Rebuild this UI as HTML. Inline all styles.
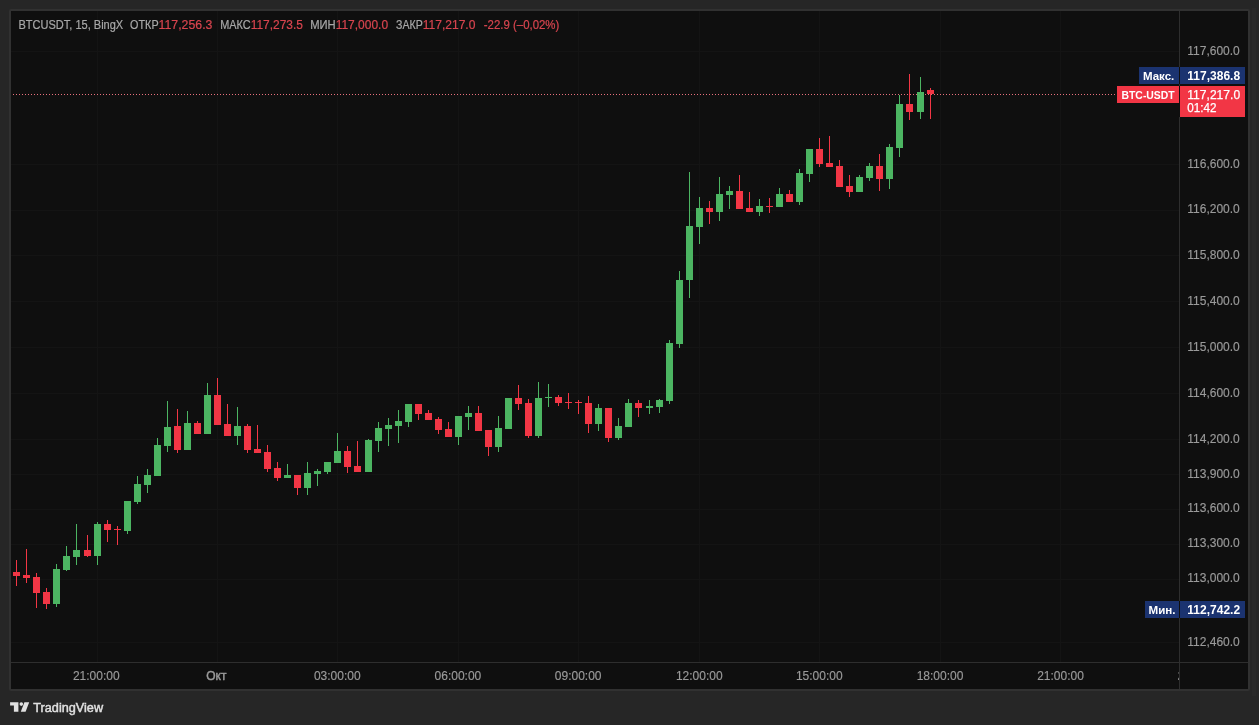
<!DOCTYPE html>
<html><head><meta charset="utf-8"><style>
html,body{margin:0;padding:0;width:1259px;height:725px;overflow:hidden;background:#262626;font-family:"Liberation Sans",sans-serif;}
</style></head><body>
<svg width="1259" height="725" viewBox="0 0 1259 725" style="position:absolute;left:0;top:0;will-change:transform"><rect x="0" y="0" width="1259" height="725" fill="#262626"/><rect x="1252" y="8" width="4" height="688" fill="#292929"/><rect x="9" y="9" width="1241" height="682" rx="2" fill="#313131"/><rect x="11" y="11" width="1237" height="678" fill="#0f0f0f"/><rect x="11" y="51" width="1168" height="1" fill="#141414"/><rect x="11" y="164" width="1168" height="1" fill="#141414"/><rect x="11" y="210" width="1168" height="1" fill="#141414"/><rect x="11" y="255" width="1168" height="1" fill="#141414"/><rect x="11" y="301" width="1168" height="1" fill="#141414"/><rect x="11" y="347" width="1168" height="1" fill="#141414"/><rect x="11" y="393" width="1168" height="1" fill="#141414"/><rect x="11" y="439" width="1168" height="1" fill="#141414"/><rect x="11" y="474" width="1168" height="1" fill="#141414"/><rect x="11" y="509" width="1168" height="1" fill="#141414"/><rect x="11" y="544" width="1168" height="1" fill="#141414"/><rect x="11" y="579" width="1168" height="1" fill="#141414"/><rect x="11" y="642" width="1168" height="1" fill="#141414"/><rect x="97" y="11" width="1" height="651" fill="#141414"/><rect x="217" y="11" width="1" height="651" fill="#141414"/><rect x="337" y="11" width="1" height="651" fill="#141414"/><rect x="458" y="11" width="1" height="651" fill="#141414"/><rect x="578" y="11" width="1" height="651" fill="#141414"/><rect x="699" y="11" width="1" height="651" fill="#141414"/><rect x="819" y="11" width="1" height="651" fill="#141414"/><rect x="940" y="11" width="1" height="651" fill="#141414"/><rect x="1060" y="11" width="1" height="651" fill="#141414"/><line x1="13" y1="94.5" x2="1179" y2="94.5" stroke="#e8707c" stroke-width="1" stroke-dasharray="1 2"/><rect x="16" y="560" width="1" height="26" fill="#f23645"/><rect x="13" y="572" width="7" height="4" fill="#f23645"/><rect x="26" y="549" width="1" height="34" fill="#f23645"/><rect x="23" y="575" width="7" height="3" fill="#f23645"/><rect x="36" y="573" width="1" height="35" fill="#f23645"/><rect x="33" y="577" width="7" height="16" fill="#f23645"/><rect x="46" y="588" width="1" height="21" fill="#f23645"/><rect x="43" y="592" width="7" height="12" fill="#f23645"/><rect x="56" y="564" width="1" height="43" fill="#4cb562"/><rect x="53" y="569" width="7" height="35" fill="#4cb562"/><rect x="66" y="546" width="1" height="25" fill="#4cb562"/><rect x="63" y="556" width="7" height="14" fill="#4cb562"/><rect x="76" y="524" width="1" height="41" fill="#4cb562"/><rect x="73" y="550" width="7" height="7" fill="#4cb562"/><rect x="87" y="535" width="1" height="22" fill="#f23645"/><rect x="84" y="550" width="7" height="6" fill="#f23645"/><rect x="97" y="522" width="1" height="43" fill="#4cb562"/><rect x="94" y="524" width="7" height="32" fill="#4cb562"/><rect x="107" y="520" width="1" height="22" fill="#f23645"/><rect x="104" y="524" width="7" height="6" fill="#f23645"/><rect x="117" y="526" width="1" height="19" fill="#f23645"/><rect x="114" y="529" width="7" height="1" fill="#f23645"/><rect x="127" y="501" width="1" height="33" fill="#4cb562"/><rect x="124" y="501" width="7" height="30" fill="#4cb562"/><rect x="137" y="476" width="1" height="28" fill="#4cb562"/><rect x="134" y="484" width="7" height="18" fill="#4cb562"/><rect x="147" y="469" width="1" height="24" fill="#4cb562"/><rect x="144" y="475" width="7" height="10" fill="#4cb562"/><rect x="157" y="438" width="1" height="38" fill="#4cb562"/><rect x="154" y="445" width="7" height="31" fill="#4cb562"/><rect x="167" y="401" width="1" height="51" fill="#4cb562"/><rect x="164" y="427" width="7" height="19" fill="#4cb562"/><rect x="177" y="409" width="1" height="44" fill="#f23645"/><rect x="174" y="426" width="7" height="24" fill="#f23645"/><rect x="187" y="411" width="1" height="39" fill="#4cb562"/><rect x="184" y="423" width="7" height="27" fill="#4cb562"/><rect x="197" y="421" width="1" height="13" fill="#f23645"/><rect x="194" y="423" width="7" height="11" fill="#f23645"/><rect x="207" y="383" width="1" height="51" fill="#4cb562"/><rect x="204" y="395" width="7" height="39" fill="#4cb562"/><rect x="217" y="378" width="1" height="47" fill="#f23645"/><rect x="214" y="395" width="7" height="30" fill="#f23645"/><rect x="227" y="404" width="1" height="32" fill="#f23645"/><rect x="224" y="424" width="7" height="12" fill="#f23645"/><rect x="237" y="407" width="1" height="38" fill="#4cb562"/><rect x="234" y="426" width="7" height="10" fill="#4cb562"/><rect x="247" y="424" width="1" height="29" fill="#f23645"/><rect x="244" y="426" width="7" height="24" fill="#f23645"/><rect x="257" y="425" width="1" height="28" fill="#f23645"/><rect x="254" y="449" width="7" height="4" fill="#f23645"/><rect x="267" y="445" width="1" height="27" fill="#f23645"/><rect x="264" y="452" width="7" height="17" fill="#f23645"/><rect x="277" y="462" width="1" height="19" fill="#f23645"/><rect x="274" y="468" width="7" height="10" fill="#f23645"/><rect x="287" y="464" width="1" height="14" fill="#4cb562"/><rect x="284" y="475" width="7" height="3" fill="#4cb562"/><rect x="297" y="475" width="1" height="20" fill="#f23645"/><rect x="294" y="475" width="7" height="13" fill="#f23645"/><rect x="307" y="462" width="1" height="33" fill="#4cb562"/><rect x="304" y="473" width="7" height="15" fill="#4cb562"/><rect x="317" y="469" width="1" height="17" fill="#4cb562"/><rect x="314" y="471" width="7" height="3" fill="#4cb562"/><rect x="327" y="462" width="1" height="12" fill="#4cb562"/><rect x="324" y="462" width="7" height="10" fill="#4cb562"/><rect x="337" y="433" width="1" height="30" fill="#4cb562"/><rect x="334" y="451" width="7" height="12" fill="#4cb562"/><rect x="347" y="446" width="1" height="27" fill="#f23645"/><rect x="344" y="451" width="7" height="16" fill="#f23645"/><rect x="357" y="441" width="1" height="31" fill="#f23645"/><rect x="354" y="466" width="7" height="6" fill="#f23645"/><rect x="368" y="439" width="1" height="33" fill="#4cb562"/><rect x="365" y="440" width="7" height="32" fill="#4cb562"/><rect x="378" y="422" width="1" height="30" fill="#4cb562"/><rect x="375" y="428" width="7" height="13" fill="#4cb562"/><rect x="388" y="418" width="1" height="28" fill="#4cb562"/><rect x="385" y="425" width="7" height="4" fill="#4cb562"/><rect x="398" y="410" width="1" height="33" fill="#4cb562"/><rect x="395" y="421" width="7" height="5" fill="#4cb562"/><rect x="408" y="404" width="1" height="23" fill="#4cb562"/><rect x="405" y="404" width="7" height="18" fill="#4cb562"/><rect x="418" y="404" width="1" height="16" fill="#f23645"/><rect x="415" y="404" width="7" height="10" fill="#f23645"/><rect x="428" y="410" width="1" height="10" fill="#f23645"/><rect x="425" y="413" width="7" height="7" fill="#f23645"/><rect x="438" y="417" width="1" height="17" fill="#f23645"/><rect x="435" y="419" width="7" height="11" fill="#f23645"/><rect x="448" y="422" width="1" height="15" fill="#f23645"/><rect x="445" y="429" width="7" height="8" fill="#f23645"/><rect x="458" y="416" width="1" height="29" fill="#4cb562"/><rect x="455" y="416" width="7" height="21" fill="#4cb562"/><rect x="468" y="406" width="1" height="24" fill="#4cb562"/><rect x="465" y="413" width="7" height="4" fill="#4cb562"/><rect x="478" y="406" width="1" height="25" fill="#f23645"/><rect x="475" y="413" width="7" height="18" fill="#f23645"/><rect x="488" y="430" width="1" height="26" fill="#f23645"/><rect x="485" y="430" width="7" height="17" fill="#f23645"/><rect x="498" y="416" width="1" height="36" fill="#4cb562"/><rect x="495" y="428" width="7" height="19" fill="#4cb562"/><rect x="508" y="398" width="1" height="31" fill="#4cb562"/><rect x="505" y="398" width="7" height="31" fill="#4cb562"/><rect x="518" y="385" width="1" height="25" fill="#f23645"/><rect x="515" y="398" width="7" height="6" fill="#f23645"/><rect x="528" y="399" width="1" height="39" fill="#f23645"/><rect x="525" y="403" width="7" height="33" fill="#f23645"/><rect x="538" y="382" width="1" height="56" fill="#4cb562"/><rect x="535" y="398" width="7" height="38" fill="#4cb562"/><rect x="548" y="384" width="1" height="23" fill="#4cb562"/><rect x="545" y="397" width="7" height="1" fill="#4cb562"/><rect x="558" y="395" width="1" height="11" fill="#f23645"/><rect x="555" y="397" width="7" height="6" fill="#f23645"/><rect x="568" y="393" width="1" height="16" fill="#f23645"/><rect x="565" y="402" width="7" height="1" fill="#f23645"/><rect x="578" y="400" width="1" height="14" fill="#f23645"/><rect x="575" y="402" width="7" height="1" fill="#f23645"/><rect x="588" y="396" width="1" height="37" fill="#f23645"/><rect x="585" y="403" width="7" height="21" fill="#f23645"/><rect x="598" y="404" width="1" height="27" fill="#4cb562"/><rect x="595" y="408" width="7" height="16" fill="#4cb562"/><rect x="608" y="408" width="1" height="34" fill="#f23645"/><rect x="605" y="408" width="7" height="30" fill="#f23645"/><rect x="618" y="418" width="1" height="22" fill="#4cb562"/><rect x="615" y="426" width="7" height="12" fill="#4cb562"/><rect x="628" y="399" width="1" height="28" fill="#4cb562"/><rect x="625" y="403" width="7" height="24" fill="#4cb562"/><rect x="638" y="400" width="1" height="17" fill="#f23645"/><rect x="635" y="403" width="7" height="5" fill="#f23645"/><rect x="649" y="400" width="1" height="14" fill="#4cb562"/><rect x="646" y="406" width="7" height="2" fill="#4cb562"/><rect x="659" y="399" width="1" height="14" fill="#4cb562"/><rect x="656" y="400" width="7" height="7" fill="#4cb562"/><rect x="669" y="340" width="1" height="64" fill="#4cb562"/><rect x="666" y="343" width="7" height="58" fill="#4cb562"/><rect x="679" y="271" width="1" height="77" fill="#4cb562"/><rect x="676" y="280" width="7" height="64" fill="#4cb562"/><rect x="689" y="172" width="1" height="126" fill="#4cb562"/><rect x="686" y="226" width="7" height="54" fill="#4cb562"/><rect x="699" y="197" width="1" height="47" fill="#4cb562"/><rect x="696" y="208" width="7" height="19" fill="#4cb562"/><rect x="709" y="201" width="1" height="23" fill="#f23645"/><rect x="706" y="208" width="7" height="4" fill="#f23645"/><rect x="719" y="177" width="1" height="44" fill="#4cb562"/><rect x="716" y="194" width="7" height="18" fill="#4cb562"/><rect x="729" y="186" width="1" height="23" fill="#4cb562"/><rect x="726" y="191" width="7" height="4" fill="#4cb562"/><rect x="739" y="175" width="1" height="34" fill="#f23645"/><rect x="736" y="191" width="7" height="18" fill="#f23645"/><rect x="749" y="192" width="1" height="20" fill="#f23645"/><rect x="746" y="208" width="7" height="4" fill="#f23645"/><rect x="759" y="199" width="1" height="17" fill="#4cb562"/><rect x="756" y="206" width="7" height="6" fill="#4cb562"/><rect x="769" y="198" width="1" height="15" fill="#f23645"/><rect x="766" y="206" width="7" height="1" fill="#f23645"/><rect x="779" y="188" width="1" height="19" fill="#4cb562"/><rect x="776" y="194" width="7" height="13" fill="#4cb562"/><rect x="789" y="190" width="1" height="12" fill="#f23645"/><rect x="786" y="194" width="7" height="8" fill="#f23645"/><rect x="799" y="169" width="1" height="36" fill="#4cb562"/><rect x="796" y="173" width="7" height="29" fill="#4cb562"/><rect x="809" y="149" width="1" height="33" fill="#4cb562"/><rect x="806" y="149" width="7" height="25" fill="#4cb562"/><rect x="819" y="138" width="1" height="29" fill="#f23645"/><rect x="816" y="149" width="7" height="15" fill="#f23645"/><rect x="829" y="136" width="1" height="31" fill="#f23645"/><rect x="826" y="163" width="7" height="4" fill="#f23645"/><rect x="839" y="160" width="1" height="27" fill="#f23645"/><rect x="836" y="166" width="7" height="21" fill="#f23645"/><rect x="849" y="175" width="1" height="22" fill="#f23645"/><rect x="846" y="186" width="7" height="6" fill="#f23645"/><rect x="859" y="175" width="1" height="17" fill="#4cb562"/><rect x="856" y="177" width="7" height="15" fill="#4cb562"/><rect x="869" y="163" width="1" height="18" fill="#4cb562"/><rect x="866" y="166" width="7" height="12" fill="#4cb562"/><rect x="879" y="154" width="1" height="37" fill="#f23645"/><rect x="876" y="166" width="7" height="13" fill="#f23645"/><rect x="889" y="144" width="1" height="45" fill="#4cb562"/><rect x="886" y="147" width="7" height="32" fill="#4cb562"/><rect x="899" y="95" width="1" height="62" fill="#4cb562"/><rect x="896" y="104" width="7" height="44" fill="#4cb562"/><rect x="909" y="74" width="1" height="46" fill="#f23645"/><rect x="906" y="104" width="7" height="8" fill="#f23645"/><rect x="920" y="77" width="1" height="42" fill="#4cb562"/><rect x="917" y="92" width="7" height="20" fill="#4cb562"/><rect x="930" y="88" width="1" height="31" fill="#f23645"/><rect x="927" y="90" width="7" height="4" fill="#f23645"/><rect x="1179" y="11" width="1" height="678" fill="#2e2e2e"/><rect x="11" y="662" width="1237" height="1" fill="#2e2e2e"/><text x="1239.8" y="54.9" text-anchor="end" font-family="Liberation Sans" font-size="12" fill="#9a9a9a" stroke="#9a9a9a" stroke-width="0.15">117,600.0</text><text x="1239.8" y="167.8" text-anchor="end" font-family="Liberation Sans" font-size="12" fill="#9a9a9a" stroke="#9a9a9a" stroke-width="0.15">116,600.0</text><text x="1239.8" y="213.2" text-anchor="end" font-family="Liberation Sans" font-size="12" fill="#9a9a9a" stroke="#9a9a9a" stroke-width="0.15">116,200.0</text><text x="1239.8" y="258.8" text-anchor="end" font-family="Liberation Sans" font-size="12" fill="#9a9a9a" stroke="#9a9a9a" stroke-width="0.15">115,800.0</text><text x="1239.8" y="304.6" text-anchor="end" font-family="Liberation Sans" font-size="12" fill="#9a9a9a" stroke="#9a9a9a" stroke-width="0.15">115,400.0</text><text x="1239.8" y="350.5" text-anchor="end" font-family="Liberation Sans" font-size="12" fill="#9a9a9a" stroke="#9a9a9a" stroke-width="0.15">115,000.0</text><text x="1239.8" y="396.5" text-anchor="end" font-family="Liberation Sans" font-size="12" fill="#9a9a9a" stroke="#9a9a9a" stroke-width="0.15">114,600.0</text><text x="1239.8" y="442.7" text-anchor="end" font-family="Liberation Sans" font-size="12" fill="#9a9a9a" stroke="#9a9a9a" stroke-width="0.15">114,200.0</text><text x="1239.8" y="477.5" text-anchor="end" font-family="Liberation Sans" font-size="12" fill="#9a9a9a" stroke="#9a9a9a" stroke-width="0.15">113,900.0</text><text x="1239.8" y="512.4" text-anchor="end" font-family="Liberation Sans" font-size="12" fill="#9a9a9a" stroke="#9a9a9a" stroke-width="0.15">113,600.0</text><text x="1239.8" y="547.3" text-anchor="end" font-family="Liberation Sans" font-size="12" fill="#9a9a9a" stroke="#9a9a9a" stroke-width="0.15">113,300.0</text><text x="1239.8" y="582.4" text-anchor="end" font-family="Liberation Sans" font-size="12" fill="#9a9a9a" stroke="#9a9a9a" stroke-width="0.15">113,000.0</text><text x="1239.8" y="645.7" text-anchor="end" font-family="Liberation Sans" font-size="12" fill="#9a9a9a" stroke="#9a9a9a" stroke-width="0.15">112,460.0</text><text x="96.3" y="679.6" text-anchor="middle" font-family="Liberation Sans" font-size="12" fill="#9a9a9a" stroke="#9a9a9a" stroke-width="0.15">21:00:00</text><text x="216.4" y="679.6" text-anchor="middle" font-family="Liberation Sans" font-size="12" fill="#9a9a9a" stroke="#9a9a9a" stroke-width="0.45">Окт</text><text x="337.3" y="679.6" text-anchor="middle" font-family="Liberation Sans" font-size="12" fill="#9a9a9a" stroke="#9a9a9a" stroke-width="0.15">03:00:00</text><text x="457.9" y="679.6" text-anchor="middle" font-family="Liberation Sans" font-size="12" fill="#9a9a9a" stroke="#9a9a9a" stroke-width="0.15">06:00:00</text><text x="578.2" y="679.6" text-anchor="middle" font-family="Liberation Sans" font-size="12" fill="#9a9a9a" stroke="#9a9a9a" stroke-width="0.15">09:00:00</text><text x="699.3" y="679.6" text-anchor="middle" font-family="Liberation Sans" font-size="12" fill="#9a9a9a" stroke="#9a9a9a" stroke-width="0.15">12:00:00</text><text x="819.3" y="679.6" text-anchor="middle" font-family="Liberation Sans" font-size="12" fill="#9a9a9a" stroke="#9a9a9a" stroke-width="0.15">15:00:00</text><text x="940" y="679.6" text-anchor="middle" font-family="Liberation Sans" font-size="12" fill="#9a9a9a" stroke="#9a9a9a" stroke-width="0.15">18:00:00</text><text x="1060.5" y="679.6" text-anchor="middle" font-family="Liberation Sans" font-size="12" fill="#9a9a9a" stroke="#9a9a9a" stroke-width="0.15">21:00:00</text><clipPath id="cp"><rect x="1170" y="663" width="9" height="26"/></clipPath><text x="1181" y="679.5" text-anchor="middle" font-family="Liberation Sans" font-size="12" font-weight="bold" fill="#9a9a9a" clip-path="url(#cp)">2</text><rect x="1139" y="67" width="40" height="17" fill="#1b3370"/><rect x="1180" y="67" width="65" height="17" fill="#1b3370"/><rect x="1179" y="67" width="1" height="17" fill="#0f0f0f"/><text x="1143" y="80" textLength="31.3" lengthAdjust="spacingAndGlyphs" font-family="Liberation Sans" font-size="11.5" font-weight="bold" fill="#ffffff">Макс.</text><text x="1187.3" y="80" textLength="52.8" lengthAdjust="spacingAndGlyphs" font-family="Liberation Sans" font-size="12" font-weight="bold" fill="#ffffff">117,386.8</text><rect x="1145" y="601" width="34" height="17" fill="#1b3370"/><rect x="1180" y="601" width="65" height="17" fill="#1b3370"/><rect x="1179" y="601" width="1" height="17" fill="#0f0f0f"/><text x="1148.5" y="613.8" textLength="27" lengthAdjust="spacingAndGlyphs" font-family="Liberation Sans" font-size="11.5" font-weight="bold" fill="#ffffff">Мин.</text><text x="1187.3" y="613.8" textLength="52.8" lengthAdjust="spacingAndGlyphs" font-family="Liberation Sans" font-size="12" font-weight="bold" fill="#ffffff">112,742.2</text><rect x="1117" y="86" width="62" height="17" fill="#f23645"/><rect x="1180" y="86" width="65" height="31" fill="#f23645"/><rect x="1179" y="86" width="1" height="31" fill="#0f0f0f"/><text x="1121.5" y="98.9" textLength="53.2" lengthAdjust="spacingAndGlyphs" font-family="Liberation Sans" font-size="11.5" font-weight="bold" fill="#ffffff">BTC-USDT</text><text x="1187.3" y="98.9" textLength="52.8" lengthAdjust="spacingAndGlyphs" font-family="Liberation Sans" font-size="12" fill="#ffffff" stroke="#ffffff" stroke-width="0.25">117,217.0</text><text x="1187.3" y="111.7" textLength="29.2" lengthAdjust="spacingAndGlyphs" font-family="Liberation Sans" font-size="12" fill="#ffffff" stroke="#ffffff" stroke-width="0.25">01:42</text><text x="18.5" y="28.8" textLength="104.7" lengthAdjust="spacingAndGlyphs" font-family="Liberation Sans" font-size="12" fill="#a8a8a8" stroke="#a8a8a8" stroke-width="0.2">BTCUSDT, 15, BingX</text><text x="130.1" y="28.8" textLength="28.5" lengthAdjust="spacingAndGlyphs" font-family="Liberation Sans" font-size="12" fill="#a8a8a8" stroke="#a8a8a8" stroke-width="0.2">ОТКР</text><text x="158.6" y="28.8" textLength="53.8" lengthAdjust="spacingAndGlyphs" font-family="Liberation Sans" font-size="12" fill="#d9454f" stroke="#d9454f" stroke-width="0.2">117,256.3</text><text x="220.2" y="28.8" textLength="30.5" lengthAdjust="spacingAndGlyphs" font-family="Liberation Sans" font-size="12" fill="#a8a8a8" stroke="#a8a8a8" stroke-width="0.2">МАКС</text><text x="250.7" y="28.8" textLength="52.2" lengthAdjust="spacingAndGlyphs" font-family="Liberation Sans" font-size="12" fill="#d9454f" stroke="#d9454f" stroke-width="0.2">117,273.5</text><text x="310.2" y="28.8" textLength="25.5" lengthAdjust="spacingAndGlyphs" font-family="Liberation Sans" font-size="12" fill="#a8a8a8" stroke="#a8a8a8" stroke-width="0.2">МИН</text><text x="335.7" y="28.8" textLength="52.4" lengthAdjust="spacingAndGlyphs" font-family="Liberation Sans" font-size="12" fill="#d9454f" stroke="#d9454f" stroke-width="0.2">117,000.0</text><text x="396" y="28.8" textLength="26.7" lengthAdjust="spacingAndGlyphs" font-family="Liberation Sans" font-size="12" fill="#a8a8a8" stroke="#a8a8a8" stroke-width="0.2">ЗАКР</text><text x="422.7" y="28.8" textLength="52.7" lengthAdjust="spacingAndGlyphs" font-family="Liberation Sans" font-size="12" fill="#d9454f" stroke="#d9454f" stroke-width="0.2">117,217.0</text><text x="483.8" y="28.8" textLength="75.5" lengthAdjust="spacingAndGlyphs" font-family="Liberation Sans" font-size="12" fill="#d9454f" stroke="#d9454f" stroke-width="0.2">-22.9 (–0,02%)</text><text x="33.3" y="711.8" textLength="69.8" lengthAdjust="spacingAndGlyphs" font-family="Liberation Sans" font-size="12.5" fill="#e0e0e0" stroke="#e0e0e0" stroke-width="0.45">TradingView</text><path d="M10.1 702.3H18.4V711.8H13.9V705.6H10.1Z" fill="#e0e0e0"/><circle cx="21.3" cy="704.1" r="1.8" fill="#e0e0e0"/><path d="M24.4 702.3H29.2L25.6 711.8H20.8Z" fill="#e0e0e0"/></svg>
</body></html>
